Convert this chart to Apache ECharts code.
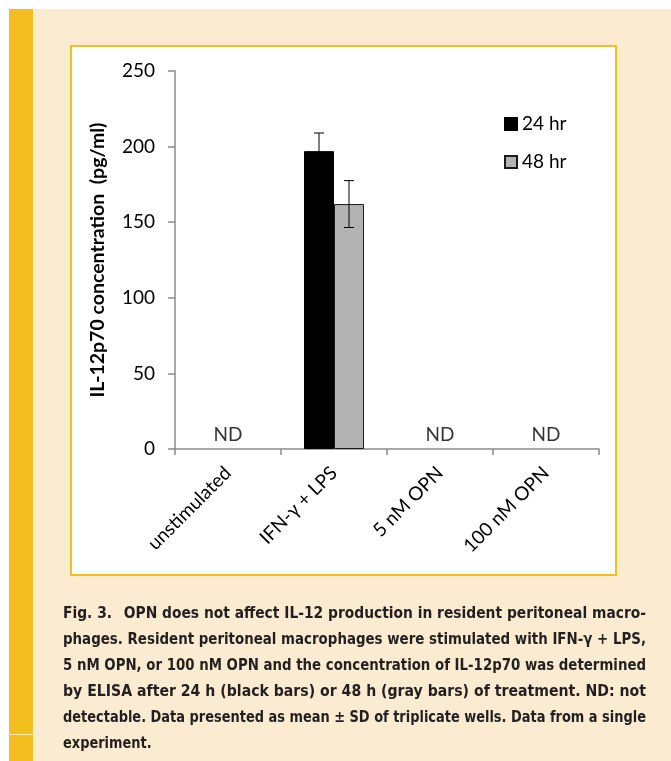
<!DOCTYPE html>
<html>
<head>
<meta charset="utf-8">
<script src="https://cdn.jsdelivr.net/npm/echarts@6/dist/echarts.min.js"></script>
<style>
  html, body { margin: 0; padding: 0; background: #ffffff; }
  body { position: relative; width: 671px; height: 761px; overflow: hidden; }
  .stripe { position: absolute; left: 9px; top: 9px; width: 24px; height: 752px; background: #f2bf1f; }
  .stripe-rule { position: absolute; left: 9px; top: 734px; width: 24px; height: 1px; background: #fbe9b8; }
  .page { position: absolute; left: 33px; top: 9px; right: 0; bottom: 0; background: #faebd1; }
  .panel { position: absolute; left: 70px; top: 45px; width: 547px; height: 531px; box-sizing: border-box;
           background: #ffffff; border: 2px solid #f2bf1f; }
  #chart { position: absolute; left: 0; top: 0; width: 671px; height: 761px; }
  .caption { position: absolute; left: 63px; top: 600px; width: 583px; color: #231f20;
             font-family: "DejaVu Sans Condensed", "DejaVu Sans", sans-serif; font-stretch: condensed;
             font-weight: bold; font-size: 16.5px; line-height: 26px; }
  .caption div { white-space: nowrap; height: 26px; }
  .caption span { display: inline-block; white-space: nowrap; transform-origin: 0 50%; }
</style>
</head>
<body>
<div class="page"></div>
<div class="stripe"></div>
<div class="stripe-rule"></div>
<div class="panel"></div>
<div id="chart"></div>
<div class="caption" id="caption">
  <div><span>Fig. 3.&ensp; OPN does not affect IL-12 production in resident peritoneal macro-</span></div>
  <div><span>phages. Resident peritoneal macrophages were stimulated with IFN-γ + LPS,</span></div>
  <div><span>5 nM OPN, or 100 nM OPN and the concentration of IL-12p70 was determined</span></div>
  <div><span>by ELISA after 24 h (black bars) or 48 h (gray bars) of treatment. ND: not</span></div>
  <div><span>detectable. Data presented as mean ± SD of triplicate wells. Data from a single</span></div>
  <div class="last"><span>experiment.</span></div>
</div>
<script>
// Treatment groups on the x axis
const categories = ['unstimulated', 'IFN-γ + LPS', '5 nM OPN', '100 nM OPN'];
// IL-12p70 means (pg/ml); '-' where nothing was detected
const mean24 = ['-', 197, '-', '-'];
const mean48 = ['-', 162, '-', '-'];
// Standard deviations of triplicate wells
const sd24 = [null, 12, null, null];
const sd48 = [null, 15.5, null, null];
// Groups marked as not detectable
const notDetected = ['ND', null, 'ND', 'ND'];
// Value axis ticks
const yMin = 0, yMax = 250, yStep = 50;

const seriesNames = ['24 hr', '48 hr'];
const BAR_W = 30;
const FONT = 'Lato';
const AXIS_GREY = '#8c8c8c';

function errorData(means, sds) {
  const out = [];
  means.forEach((m, i) => { if (sds[i] != null && m !== '-') out.push([i, m, sds[i]]); });
  return out;
}

function errorSeries(means, sds, side) {
  return {
    type: 'custom',
    silent: true,
    z: 5,
    data: errorData(means, sds),
    encode: { x: 0, y: 1 },
    renderItem: function (params, api) {
      const idx = api.value(0), m = api.value(1), s = api.value(2);
      const top = api.coord([idx, m + s]);
      const bot = api.coord([idx, m - s]);
      const x = top[0] + side * BAR_W / 2;
      const cap = 5;
      const st = { stroke: '#000', lineWidth: 1 };
      return {
        type: 'group',
        children: [
          { type: 'line', shape: { x1: x, y1: top[1], x2: x, y2: bot[1] }, style: st },
          { type: 'line', shape: { x1: x - cap, y1: top[1], x2: x + cap, y2: top[1] }, style: st },
          { type: 'line', shape: { x1: x - cap, y1: bot[1], x2: x + cap, y2: bot[1] }, style: st }
        ]
      };
    }
  };
}

const ndData = [];
notDetected.forEach((t, i) => { if (t) ndData.push({ value: [i, 0], text: t }); });

const chart = echarts.init(document.getElementById('chart'), null, { renderer: 'canvas' });
chart.setOption({
  backgroundColor: 'transparent',
  animation: false,
  textStyle: { fontFamily: FONT },
  grid: { left: 175, right: 72, top: 71, bottom: 312, containLabel: false },
  legend: {
    data: seriesNames,
    orient: 'vertical',
    left: 499,
    top: 109,
    itemWidth: 12,
    itemHeight: 12,
    itemGap: 18,
    icon: 'rect',
    textStyle: { fontFamily: FONT, fontSize: 19, color: '#000', lineHeight: 20 }
  },
  xAxis: {
    type: 'category',
    data: categories,
    boundaryGap: true,
    axisLine: { show: true, lineStyle: { color: AXIS_GREY, width: 1.5 } },
    axisTick: { show: true, length: 6, alignWithLabel: false, lineStyle: { color: AXIS_GREY, width: 1.5 } },
    axisLabel: { interval: 0, rotate: 45, margin: 21, fontFamily: FONT, fontSize: 19, color: '#000' }
  },
  yAxis: {
    type: 'value',
    min: yMin,
    max: yMax,
    interval: yStep,
    name: 'IL-12p70 concentration  (pg/ml)',
    nameLocation: 'middle',
    nameGap: 67,
    nameTextStyle: { fontFamily: FONT, fontWeight: 'bold', fontSize: 19.5, color: '#000' },
    axisLine: { show: true, lineStyle: { color: AXIS_GREY, width: 1.5 } },
    axisTick: { show: true, length: 7, lineStyle: { color: AXIS_GREY, width: 1.5 } },
    splitLine: { show: false },
    axisLabel: { margin: 20, fontFamily: FONT, fontSize: 19, color: '#000' }
  },
  series: [
    {
      name: seriesNames[0],
      type: 'bar',
      data: mean24,
      barWidth: BAR_W,
      barGap: '0%',
      itemStyle: { color: '#000000', borderColor: '#000000', borderWidth: 1 }
    },
    {
      name: seriesNames[1],
      type: 'bar',
      data: mean48,
      barWidth: BAR_W,
      barGap: '0%',
      itemStyle: { color: '#b3b3b3', borderColor: '#1a1a1a', borderWidth: 1 }
    },
    errorSeries(mean24, sd24, -1),
    errorSeries(mean48, sd48, 1),
    {
      type: 'scatter',
      silent: true,
      data: ndData,
      symbolSize: 1,
      itemStyle: { color: 'rgba(0,0,0,0)' },
      label: {
        show: true,
        position: 'top',
        distance: 4,
        formatter: p => p.data.text,
        fontFamily: FONT,
        fontSize: 19,
        color: '#000'
      }
    }
  ]
});

// Fit each caption line to the column: justify short lines by widening spaces,
// squeeze long ones horizontally; the final line keeps the common squeeze.
function fitCaption() {
  const COL = 583;
  const lines = Array.from(document.querySelectorAll('#caption div'));
  const scales = [];
  lines.forEach(div => {
    const span = div.querySelector('span');
    span.style.transform = '';
    span.style.wordSpacing = '';
  });
  lines.forEach(div => {
    if (div.classList.contains('last')) return;
    const span = div.querySelector('span');
    const w = span.getBoundingClientRect().width;
    const s = Math.min(1, COL / w);
    scales.push(s);
    const gaps = (span.textContent.match(/ /g) || []).length;
    if (s < 1) {
      span.style.transform = 'scaleX(' + s + ')';
    } else if (gaps > 0) {
      span.style.wordSpacing = ((COL - w) / gaps) + 'px';
    }
  });
  const minScale = Math.min.apply(null, scales);
  lines.forEach(div => {
    if (!div.classList.contains('last')) return;
    div.querySelector('span').style.transform = 'scaleX(' + minScale + ')';
  });
}
fitCaption();
if (document.fonts && document.fonts.ready) document.fonts.ready.then(fitCaption);
</script>
</body>
</html>
